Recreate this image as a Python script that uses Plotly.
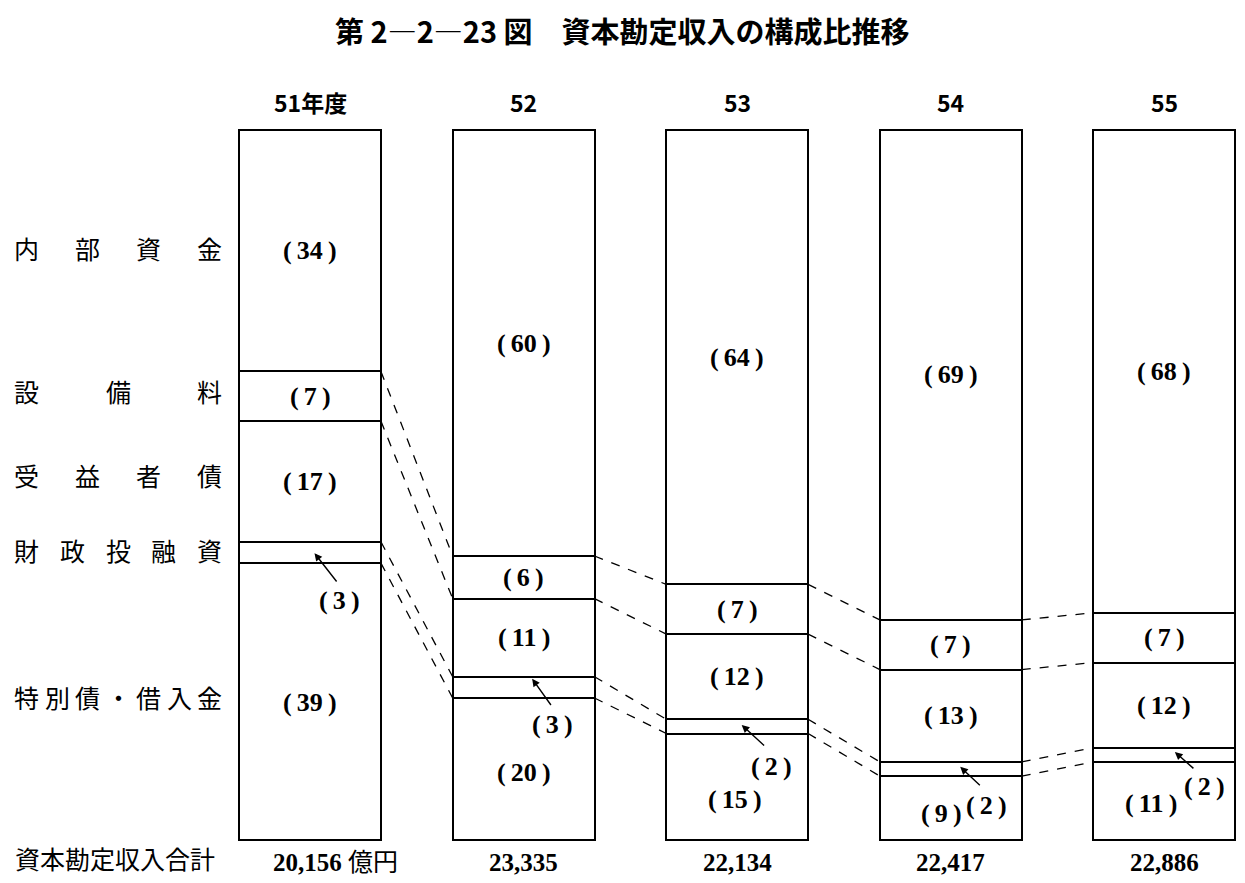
import plotly.graph_objects as go
import numpy as np

# data (構成比 %, 合計 億円)
years = ['51年度', '52', '53', '54', '55']
categories = ['内部資金', '設備料', '受益者債', '財政投融資', '特別債・借入金']
naibu = [34, 60, 64, 69, 68]
setsubi = [7, 6, 7, 7, 7]
juekisha = [17, 11, 12, 13, 12]
zaito = [3, 3, 2, 2, 2]
tokubetsu = [39, 20, 15, 9, 11]
totals = [20156, 23335, 22134, 22417, 22886]

series = [naibu, setsubi, juekisha, zaito, tokubetsu]
xs = np.arange(len(years))
bar_w = 0.664
hw = bar_w / 2

# page-pixel helpers for text placement (page has an 8px body margin)
X0, XS = 310.0, 213.6
Y0, YS = 130.0, 7.1
PAD = 8
W, H = 1245 - 2 * PAD, 883 - 2 * PAD


def px(p):
    return (p - X0) / XS


def py(p):
    return (p - Y0) / YS


serif = 'Liberation Serif, DejaVu Serif, Noto Sans CJK JP'
jp = 'Noto Sans CJK JP'
thin = '\u2009'

fig = go.Figure()

for name, vals in zip(categories, series):
    fig.add_trace(go.Bar(
        x=xs, y=vals, name=name, width=bar_w,
        marker=dict(color='white', line=dict(color='black', width=2)),
        hoverinfo='skip', showlegend=False,
    ))

# dashed connectors between segment boundaries
cum = np.cumsum(np.array(series), axis=0)
for i in range(len(years) - 1):
    for k in range(len(categories) - 1):
        fig.add_trace(go.Scatter(
            x=[xs[i] + hw, xs[i + 1] - hw], y=[cum[k][i], cum[k][i + 1]],
            mode='lines', line=dict(color='black', width=1.3, dash='dash'),
            hoverinfo='skip', showlegend=False,
        ))

ann = []
num_font = dict(family=serif, size=26, color='black')


def lab(v):
    return f'<b>({thin}{v}{thin})</b>'


# segment labels
small_idx = 3
bottom_dx = [0, 0, -0.01, -0.044, -0.063]
bottom_dy = [0.2, 0.5, 1.85, 0.7, 0.3]
for k, vals in enumerate(series):
    for i, v in enumerate(vals):
        if k == small_idx:
            continue
        mid = cum[k][i] - v / 2
        dx = bottom_dx[i] if k == 4 else 0
        dy = bottom_dy[i] if k == 4 else 0
        ann.append(dict(x=xs[i] + dx, y=mid + dy, text=lab(v), showarrow=False,
                        font=num_font))

# small segments, label below with an arrow pointing into the segment
txt_off = [(0.136, 6.7), (0.133, 5.3), (0.161, 5.7), (0.166, 5.1), (0.19, 4.5)]
head_off = [(0.021, 0.1), (0.04, -1.2), (0.021, -0.2), (0.044, -0.3), (0.049, -0.4)]
tail_off = [(0.13, 4.3), (0.133, 2.7), (0.133, 2.9), (0.143, 2.5), (0.143, 2.1)]
for i, v in enumerate(zaito):
    mid = cum[small_idx][i] - v / 2
    ann.append(dict(x=xs[i] + txt_off[i][0], y=mid + txt_off[i][1], text=lab(v),
                    showarrow=False, font=num_font))
    ann.append(dict(x=xs[i] + head_off[i][0], y=mid + head_off[i][1],
                    ax=xs[i] + tail_off[i][0], ay=mid + tail_off[i][1],
                    axref='x', ayref='y', text='', showarrow=True,
                    arrowhead=2, arrowsize=1.1, arrowwidth=1.4, arrowcolor='black'))

# year labels
for i, yr in enumerate(years):
    ann.append(dict(x=xs[i], y=py(102), text=f'<b>{yr}</b>', showarrow=False,
                    font=dict(family=jp, size=23, color='black')))

# totals
tot_font = dict(family=serif, size=25, color='black')
for i, t in enumerate(totals):
    if i == 0:
        ann.append(dict(x=px(271), y=py(862), text=f'<b>{t:,}</b> 億円', xanchor='left',
                        showarrow=False, font=tot_font))
    else:
        ann.append(dict(x=xs[i], y=py(862), text=f'<b>{t:,}</b>', showarrow=False,
                        font=tot_font))

# left category labels, characters spread across the same width
left_rows = [('内部資金', 248), ('設備料', 391), ('受益者債', 475),
             ('財政投融資', 550), ('特別債・借入金', 697)]
x_l, x_r, cw = 14, 222, 25
for label, yy in left_rows:
    n = len(label)
    for j, ch in enumerate(label):
        cx = x_l + cw / 2 + j * (x_r - x_l - cw) / (n - 1)
        ann.append(dict(x=px(cx), y=py(yy), text=ch, showarrow=False,
                        font=dict(family=jp, size=25, color='black')))
ann.append(dict(x=px(13), y=py(858), text='資本勘定収入合計', xanchor='left',
                showarrow=False, font=dict(family=jp, size=25, color='black')))

# title
ann.append(dict(x=px(622), y=py(30), text='<b>第 2―2―23 図　資本勘定収入の構成比推移</b>',
                showarrow=False, font=dict(family=jp, size=29, color='black')))

fig.update_layout(
    width=W, height=H,
    margin=dict(l=0, r=0, t=0, b=0),
    paper_bgcolor='white', plot_bgcolor='white',
    barmode='stack', annotations=ann,
    xaxis=dict(range=[px(PAD), px(PAD + W)], visible=False, fixedrange=True),
    yaxis=dict(range=[py(PAD + H), py(PAD)], visible=False, fixedrange=True),
)

fig.write_html("out.html")
